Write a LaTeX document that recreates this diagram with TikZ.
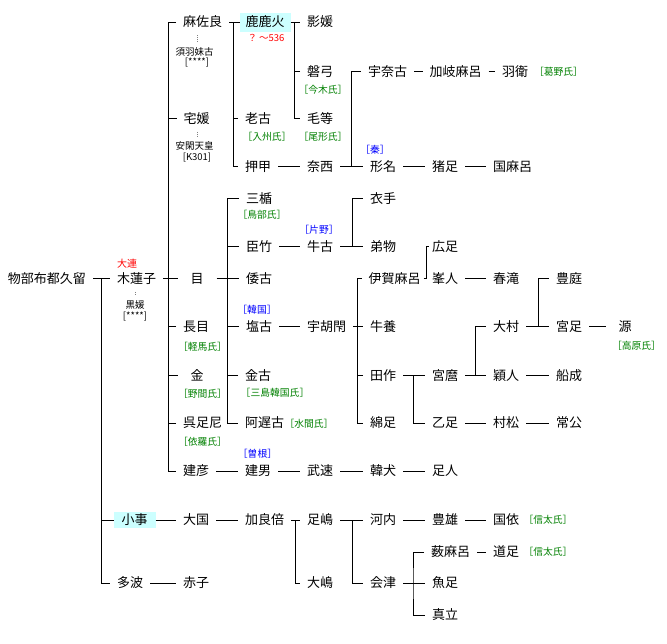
\documentclass[tikz,border=0pt]{standalone}
\usepackage{fontspec}
\setmainfont{Noto Sans CJK JP}
\definecolor{clangreen}{HTML}{008000}
\definecolor{hicyan}{HTML}{CCFFFF}
\tikzset{
  person/.style={inner xsep=0pt, inner ysep=0pt, outer xsep=7pt, outer ysep=0pt,
    text height=10pt, text depth=1pt, font=\fontsize{13}{13}\selectfont},
  single/.style={person, minimum width=25pt},
  marked/.style={person, fill=hicyan, outer xsep=0pt, inner xsep=6pt, inner ysep=4pt},
  note/.style={inner sep=0pt, text height=8pt, text depth=1pt, font=\fontsize{9.5}{9.5}\selectfont},
  clan/.style={note, text=clangreen, font=\fontsize{9.8}{9.8}\selectfont},
  house/.style={clan, text=blue},
  title/.style={note, text=red, font=\fontsize{10}{10}\selectfont},
  wife/.style={gray, line width=0.8pt, densely dotted, shorten <=7.5pt, shorten >=4.5pt},
}
\begin{document}
\begin{tikzpicture}[x=1pt, y=-1pt, line width=1pt]
    \useasboundingbox (0,0) rectangle (667,644);

    % first generations
    \node (futsukuru) at (47,279)[person]{物部布都久留};
    \node (mokurenshi) at (136.5,279)[person]{木蓮子};
    \node (oomuraji) at (127,264)[title]{大連};
    \node (kurohime) at (135,305)[note]{黒媛};
    \node (kurohimeid) at (135,316)[note]{[****]};

    \node (masara) at (202.5,22.5)[person]{麻佐良};
    \node (suwa) at (194.5,52)[note]{須羽妹古};
    \node (suwaid) at (197,62)[note]{[****]};
    \node (yakahime) at (196.5,119)[person]{宅媛};
    \node (ankan) at (194.5,146)[note]{安閑天皇};
    \node (ankanid) at (197,157)[note]{[K301]};
    \node (me) at (197,279)[single]{目};
    \node (nagame) at (196,327)[person]{長目};
    \node (karuma) at (202.5,347)[clan]{［軽馬氏］};
    \node (kane) at (197,376)[single]{金};
    \node (noma) at (202.5,394)[clan]{［野間氏］};
    \node (kuretari) at (202.5,423.5)[person]{呉足尼};
    \node (yosami) at (202.5,442)[clan]{［依羅氏］};
    \node (takehiko) at (196,471)[person]{建彦};

    % column 3
    \node (arakahi) at (265,22.5)[marked]{鹿鹿火};
    \node (arakahiyear) at (266,38)[title, font=\fontsize{9.5}{9.5}\selectfont]{？ ～536};
    \node (oyuko) at (258,119)[person]{老古};
    \node (iruzu) at (267,137)[clan]{［入州氏］};
    \node (oshika) at (258,167)[person]{押甲};
    \node (mitate) at (259,199)[person]{三楯};
    \node (tobe) at (262,215)[clan]{［鳥部氏］};
    \node (omitake) at (259,247)[person]{臣竹};
    \node (yamatoko) at (259,279)[person]{倭古};
    \node (karakuni) at (257,310)[house]{［韓国］};
    \node (shioko) at (259,327)[person]{塩古};
    \node (kaneko) at (258,376)[person]{金古};
    \node (mishima) at (275,393)[clan]{［三島韓国氏］};
    \node (ajiko) at (264.5,423.5)[person]{阿遅古};
    \node (mizuma) at (309,423.5)[clan]{［水間氏］};
    \node (sone) at (257.5,454)[house]{［曽根］};
    \node (takeo) at (258,471)[person]{建男};

    % column 4
    \node (kagehime) at (320,22.5)[person]{影媛};
    \node (iwayumi) at (320,72)[person]{磐弓};
    \node (imaki) at (323,90)[clan]{［今木氏］};
    \node (keto) at (320,119)[person]{毛等};
    \node (ogata) at (323,137)[clan]{［尾形氏］};
    \node (nase) at (320,167)[person]{奈西};
    \node (katano) at (319,230)[house]{［片野］};
    \node (ushiko) at (320,247)[person]{牛古};
    \node (ukohe) at (326.5,327)[person]{宇胡閇};
    \node (takehaya) at (320,471)[person]{武速};

    % column 5
    \node (unako) at (387.5,72)[person]{宇奈古};
    \node (hata) at (375,150)[house]{［秦］};
    \node (katana) at (383,167)[person]{形名};
    \node (koromode) at (383,199)[person]{衣手};
    \node (otomono) at (383,247)[person]{弟物};
    \node (ikamaro) at (394.5,279)[person]{伊賀麻呂};
    \node (ushikai) at (383,327)[person]{牛養};
    \node (tatsukuri) at (383,376)[person]{田作};
    \node (watatari) at (383,423.5)[person]{綿足};
    \node (karainu) at (383,471)[person]{韓犬};

    % column 6
    \node (kakimaro) at (455.5,72)[person]{加岐麻呂};
    \node (inotari) at (445,167)[person]{猪足};
    \node (hirotari) at (445,247)[person, outer xsep=3pt]{広足};
    \node (minehito) at (445,279)[person]{峯人};
    \node (miyamaro) at (445,376)[person]{宮麿};
    \node (ototari) at (445,423.5)[person]{乙足};
    \node (tarihito) at (445,471)[person]{足人};

    % column 7
    \node (hae) at (515,72)[person]{羽衛};
    \node (kadono) at (558.5,72)[clan]{［葛野氏］};
    \node (kunimaro) at (512.5,167)[person]{国麻呂};
    \node (harutaki) at (506,279)[person]{春滝};
    \node (omura) at (506,327)[person]{大村};
    \node (hidehito) at (506,376)[person]{穎人};
    \node (muramatsu) at (506,423.5)[person]{村松};

    % column 8
    \node (toyoniwa) at (569,279)[person]{豊庭};
    \node (miyatari) at (569,327)[person]{宮足};
    \node (funanari) at (569,376)[person]{船成};
    \node (tsunekimi) at (569,423.5)[person]{常公};
    \node (minamoto) at (625,327)[single]{源};
    \node (takahara) at (636.5,346)[clan]{［高原氏］};

    % lower branch
    \node (okoto) at (134.5,520)[marked, inner xsep=8pt, inner ysep=2.5pt]{小事};
    \node (okuni) at (196,520)[person]{大国};
    \node (karabe) at (264.5,520)[person]{加良倍};
    \node (tarishima) at (320,520)[person]{足嶋};
    \node (kawachi) at (383,520)[person]{河内};
    \node (toyoo) at (445,520)[person]{豊雄};
    \node (kuniyori) at (506,520)[person]{国依};
    \node (shida) at (548,520)[clan]{［信太氏］};
    \node (yabumaro) at (450.5,552)[person]{薮麻呂};
    \node (michitari) at (506,552)[person]{道足};
    \node (shidab) at (548,552)[clan]{［信太氏］};
    \node (taha) at (130,583)[person]{多波};
    \node (akako) at (196,583)[person]{赤子};
    \node (oshima) at (320,583)[person]{大嶋};
    \node (aizu) at (383,583)[person]{会津};
    \node (uotari) at (445,583)[person]{魚足};
    \node (matate) at (445,615)[person]{真立};

    % spines
    \coordinate (sroot) at (101.5,279);
    \coordinate (smoku) at (168.5,279);
    \coordinate (smasara) at (233,22.5);
    \coordinate (sarakahi) at (294,22.5);
    \coordinate (snase) at (351.5,167);
    \coordinate (sme) at (227.5,279);
    \coordinate (sushiko) at (352,247);
    \coordinate (sukohe) at (357.5,327);
    \coordinate (sikamaro) at (426,279);
    \coordinate (statsukuri) at (413,376);
    \coordinate (smiyamaro) at (475,376);
    \coordinate (somura) at (538,327);
    \coordinate (skarabe) at (295.5,520);
    \coordinate (starishima) at (352,520);
    \coordinate (saizu) at (413,583);

    % wives
    \draw[wife] (masara.south -| suwaid) -- (suwa.north -| suwaid);
    \draw[wife] (yakahime.south -| ankanid) -- (ankan.north -| ankanid);
    \draw[wife] (mokurenshi.south -| kurohime) -- (kurohime.north);

    % trunk
    \draw (futsukuru.east) -- (mokurenshi.west);
    \draw (sroot) |- (taha.west);
    \draw (okoto.west) -- (okoto.west -| sroot);

    \draw (mokurenshi.east) -- (me.west);
    \draw (masara.west) -| (smoku) |- (takehiko.west);
    \foreach \c in {yakahime, nagame, kane, kuretari}
    {
        \draw (\c.west) -- (\c.west -| smoku);
    }

    \draw (masara.east) -- (arakahi.west);
    \draw (smasara) |- (oshika.west);
    \draw (oyuko.west) -- (oyuko.west -| smasara);
    \draw (arakahi.east) -- (kagehime.west);
    \draw (sarakahi) |- (keto.west);
    \draw (iwayumi.west) -- (iwayumi.west -| sarakahi);
    \draw (nase.east) -- (katana.west);
    \draw (snase) |- (unako.west);

    \draw (me.east) -- (yamatoko.west);
    \draw (mitate.west) -| (sme) |- (ajiko.west);
    \foreach \c in {omitake, shioko, kaneko}
    {
        \draw (\c.west) -- (\c.west -| sme);
    }
    \draw (ushiko.east) -- (otomono.west);
    \draw (sushiko) |- (koromode.west);
    \draw (ukohe.east) -- (ushikai.west);
    \draw (ikamaro.west) -| (sukohe) |- (watatari.west);
    \draw (tatsukuri.west) -- (tatsukuri.west -| sukohe);
    \draw (ikamaro.east) ++(-4pt,0) -- (sikamaro) |- (hirotari.west);

    \draw (tatsukuri.east) -- (miyamaro.west);
    \draw (statsukuri) |- (ototari.west);
    \draw (miyamaro.east) -- (hidehito.west);
    \draw (smiyamaro) |- (omura.west);
    \draw (omura.east) -- (miyatari.west);
    \draw (somura) |- (toyoniwa.west);

    \draw (karabe.east) -- (tarishima.west);
    \draw (skarabe) |- (oshima.west);
    \draw (tarishima.east) -- (kawachi.west);
    \draw (starishima) |- (aizu.west);
    \draw (aizu.east) -- (uotari.west);
    \draw (yabumaro.west) -| (saizu) |- (matate.west);

    % straight lines
    \foreach \a/\b in {oshika/nase, unako/kakimaro, kakimaro/hae, katana/inotari,
        inotari/kunimaro, omitake/ushiko, shioko/ukohe, minehito/harutaki,
        miyatari/minamoto, hidehito/funanari, ototari/muramatsu,
        muramatsu/tsunekimi, takehiko/takeo, takeo/takehaya, takehaya/karainu,
        karainu/tarihito, okoto/okuni, okuni/karabe, kawachi/toyoo,
        toyoo/kuniyori, yabumaro/michitari, taha/akako}
    {
        \draw (\a.east) -- (\b.west);
    }
\end{tikzpicture}
\end{document}
